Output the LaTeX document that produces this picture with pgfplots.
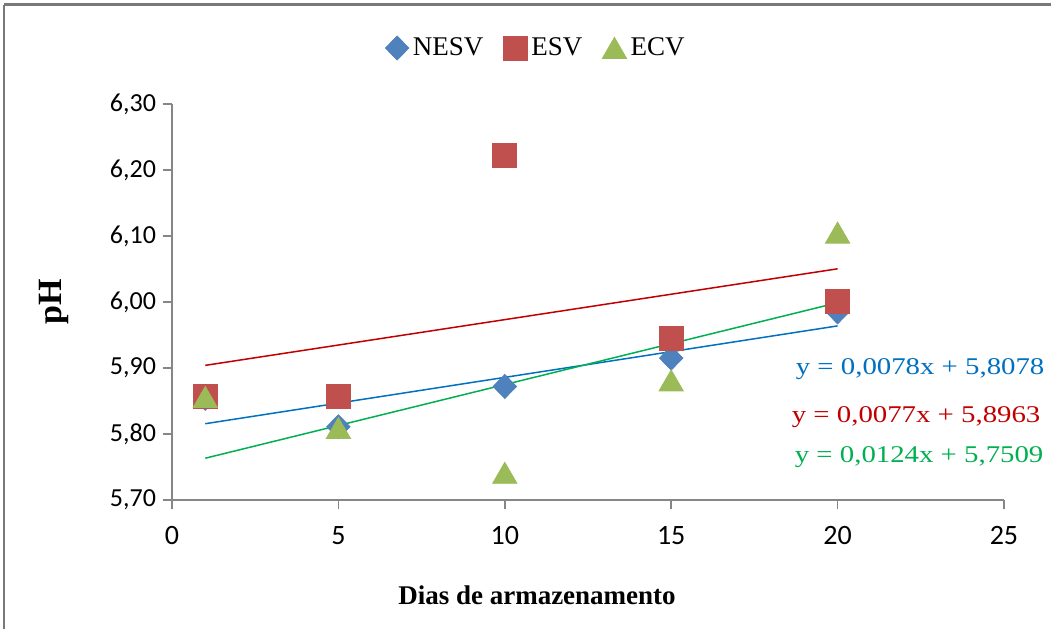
\documentclass[border=0pt]{standalone}
\usepackage{pgfplots}
\pgfplotsset{compat=1.18}
\usepackage{fontspec}
\usepackage{graphicx}
\setmainfont{Liberation Serif}
\newfontfamily\carlito{Carlito}
\definecolor{cNESV}{HTML}{4F81BD}
\definecolor{cESV}{HTML}{C0504D}
\definecolor{cECV}{HTML}{9BBB59}
\definecolor{tNESV}{HTML}{0070C0}
\definecolor{tESV}{HTML}{C00000}
\definecolor{tECV}{HTML}{00B050}
\definecolor{axgray}{HTML}{868686}
\begin{document}
\begin{tikzpicture}[x=1pt,y=1pt]
\useasboundingbox (-86,-64) rectangle (439.5,250);
\draw[axgray!90!black, line width=1.5pt] (-84,247.5) -- (440,247.5);
\draw[axgray!90!black, line width=0.6pt] (-84,247.5) -- (-84,-66);
\begin{axis}[
  at={(0,0)}, anchor=south west,
  scale only axis, width=416pt, height=198pt,
  xmin=0, xmax=25, ymin=5.7, ymax=6.3,
  xtick={0,5,10,15,20,25},
  ytick={5.7,5.8,5.9,6.0,6.1,6.2,6.3},
  axis x line*=bottom, axis y line*=left,
  axis line style={axgray, line width=0.75pt, -},
  tick style={axgray, line width=0.75pt},
  tick align=outside, major tick length=4.5pt,
  /pgf/number format/assume math mode=true,
  yticklabel style={font=\carlito\fontsize{13}{13}\selectfont, /pgf/number format/.cd, fixed, fixed zerofill, precision=2, use comma},
  xticklabel style={font=\carlito\fontsize{14}{14}\selectfont, yshift=-5pt},
  clip=false,
  legend style={at={(0.4387,1.1414)}, anchor=center, draw=none, fill=none,
    font=\fontsize{13.5}{13.5}\selectfont, legend columns=-1,
    /tikz/every even column/.append style={column sep=8pt},
    inner sep=0pt, row sep=0pt},
  legend cell align=left,
]
\addplot[only marks, mark=diamond*, mark size=6pt, mark options={xscale=1.3, fill=cNESV, draw=cNESV}] coordinates {
 (1,5.854) (5,5.811) (10,5.872) (15,5.915) (20,5.985)};
\addlegendentry{NESV}
\addplot[only marks, mark=square*, mark size=6pt, mark options={fill=cESV, draw=cESV}] coordinates {
 (1,5.857) (5,5.857) (10,6.222) (15,5.945) (20,6.001)};
\addlegendentry{ESV}
\addplot[only marks, mark=triangle*, mark size=7pt, mark options={fill=cECV, draw=cECV, yshift=-1.7pt}] coordinates {
 (1,5.856) (5,5.809) (10,5.741) (15,5.881) (20,6.105)};
\addlegendentry{ECV}
\addplot[forget plot, tNESV, line width=0.75pt] coordinates {(1,5.8156) (20,5.9638)};
\addplot[forget plot, tESV, line width=0.75pt] coordinates {(1,5.9040) (20,6.0503)};
\addplot[forget plot, tECV, line width=0.75pt] coordinates {(1,5.7633) (20,5.9989)};
\node[tNESV, font=\fontsize{12}{12}\selectfont] at (axis cs:22.48,5.8985) {\scalebox{1.2}[1]{y = 0,0078x + 5,8078}};
\node[tESV, font=\fontsize{12}{12}\selectfont] at (axis cs:22.36,5.8258) {\scalebox{1.2}[1]{y = 0,0077x + 5,8963}};
\node[tECV, font=\fontsize{12}{12}\selectfont] at (axis cs:22.45,5.7650) {\scalebox{1.2}[1]{y = 0,0124x + 5,7509}};
\node[font=\bfseries\fontsize{13.5}{13.5}\selectfont] at (axis description cs:0.4387,-0.24) {Dias de armazenamento};
\node[font=\bfseries\fontsize{17}{17}\selectfont, rotate=90] at (axis description cs:-0.142,0.5) {pH};
\end{axis}
\end{tikzpicture}
\end{document}
